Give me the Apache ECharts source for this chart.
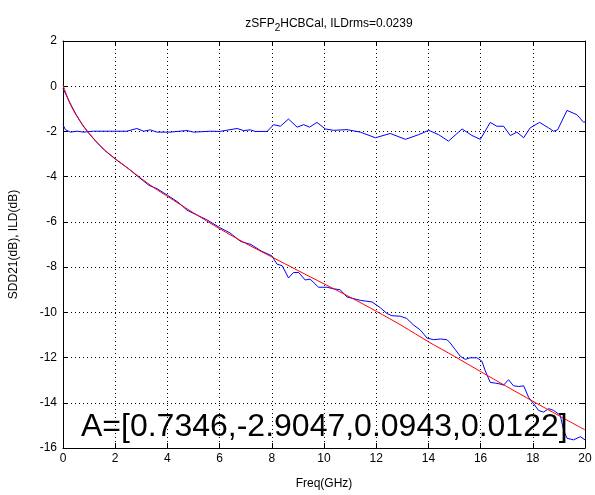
<!DOCTYPE html>
<html><head><meta charset="utf-8">
<script src="https://cdn.jsdelivr.net/npm/echarts@6/dist/echarts.min.js"></script>
<style>html,body{margin:0;padding:0;background:#fff}#c{width:595px;height:495px}</style>
</head><body><div id="c"></div>
<script>
const xTicks = [0,2,4,6,8,10,12,14,16,18,20];
const yTicks = [2,0,-2,-4,-6,-8,-10,-12,-14,-16];

const sddFreq = [0,0.25,0.5,0.75,1,1.25,1.6,2,2.5,2.9,3.3,3.6,4,4.4,4.75,5.1,5.5,6,6.4,6.8,7.2,7.6,8.0,8.2,8.4,8.64,8.83,9.03,9.28,9.47,9.79,10.11,10.37,10.62,10.88,11.39,11.84,12.16,12.41,12.6,12.92,13.17,13.43,13.69,13.95,14.2,14.46,14.71,14.84,15.03,15.22,15.41,15.6,15.86,16.05,16.18,16.37,16.56,16.75,16.88,17.07,17.26,17.46,17.65,17.84,18.03,18.22,18.41,18.61,18.8,19.05,19.18,19.31,19.56,19.82,20];
const sdd21 = [-0.1,-0.7,-1.25,-1.72,-2.1,-2.43,-2.84,-3.22,-3.64,-4.02,-4.39,-4.53,-4.82,-5.12,-5.48,-5.68,-5.9,-6.25,-6.49,-6.86,-7.0,-7.29,-7.5,-7.87,-7.94,-8.48,-8.24,-8.24,-8.57,-8.53,-8.89,-8.89,-8.96,-9.0,-9.32,-9.47,-9.54,-9.8,-10.05,-10.15,-10.17,-10.27,-10.56,-10.78,-11.14,-11.21,-11.18,-11.21,-11.36,-11.65,-11.94,-12.08,-12.01,-12.01,-12.16,-12.59,-13.1,-13.13,-13.17,-13.22,-12.98,-13.25,-13.28,-13.25,-13.76,-14.04,-14.34,-14.41,-14.26,-14.34,-14.55,-15.21,-15.57,-15.64,-15.5,-15.64];

const fitFreq = [0,0.25,0.5,0.75,1,1.5,2,2.5,3,3.5,4,5,6,7,8,9,10,11,12,13,14,15,16,17,18,19,20];
const fitVals = [0.05,-0.72,-1.27,-1.7,-2.08,-2.72,-3.2,-3.64,-4.08,-4.5,-4.87,-5.6,-6.3,-6.95,-7.55,-8.15,-8.74,-9.33,-9.95,-10.6,-11.3,-11.95,-12.62,-13.28,-13.93,-14.57,-15.2];

const ildFreq = [0,0.09,0.28,0.54,0.79,1.17,1.81,2.45,2.83,3.09,3.35,3.6,4.1,4.75,5.0,5.65,6.0,6.67,6.92,7.18,7.37,7.82,8.07,8.33,8.64,8.97,9.22,9.45,9.73,10.05,10.37,10.88,11.39,11.97,12.54,13.12,13.63,14.01,14.39,14.77,15.29,15.67,15.99,16.37,16.62,16.88,17.14,17.39,17.65,17.9,18.26,18.6,18.8,18.95,19.31,19.69,19.95,20];
const ildVals = [-1.7,-1.92,-2.03,-1.99,-2.03,-1.99,-1.99,-1.99,-1.87,-1.99,-1.93,-2.03,-2.03,-1.96,-2.03,-1.99,-2.0,-1.87,-1.96,-1.93,-2.0,-2.0,-1.7,-1.77,-1.45,-1.81,-1.7,-1.81,-1.6,-1.89,-1.95,-1.92,-2.03,-2.28,-2.09,-2.35,-2.14,-1.95,-2.14,-2.43,-1.89,-2.18,-2.35,-1.6,-1.77,-1.77,-2.18,-2.03,-2.28,-1.84,-1.6,-1.84,-1.99,-1.93,-1.07,-1.26,-1.6,-1.57];

const titleMain = 'zSFP';
const titleSub = '2';
const titleRest = 'HCBCal, ILDrms=0.0239';
const annotation = 'A=[0.7346,-2.9047,0.0943,0.0122]';
const xName = 'Freq(GHz)';
const yName = 'SDD21(dB), ILD(dB)';

const zip = (a, b) => a.map((v, i) => [v, b[i]]);
const FONT = '"Liberation Sans", Arial, sans-serif';
const dotted = {color:'#000', width:1, type:[1,3]};

const chart = echarts.init(document.getElementById('c'), null, {renderer:'canvas'});
const baseX = {type:'value', min:xTicks[0], max:xTicks[xTicks.length-1], interval:2};
const baseY = {type:'value', min:yTicks[yTicks.length-1], max:yTicks[0], interval:2};
chart.setOption({
  animation:false,
  backgroundColor:'#fff',
  title:{
    text:'{m|' + titleMain + '}{s|' + titleSub + '}{m|' + titleRest + '}',
    left:324, top:10, textAlign:'center',
    textStyle:{fontWeight:'normal', rich:{
      m:{fontFamily:FONT, fontSize:12, color:'#000', fontWeight:'normal'},
      s:{fontFamily:FONT, fontSize:10, color:'#000', fontWeight:'normal', padding:[8,0,0,0]}
    }}
  },
  grid:{left:63, right:10, top:41, bottom:42, containLabel:false},
  xAxis:[
    Object.assign({}, baseX, {position:'bottom', name:xName, nameLocation:'middle', nameGap:30,
      nameTextStyle:{fontFamily:FONT, fontSize:12, color:'#000'},
      axisLine:{show:true, onZero:false, lineStyle:{color:'#000', width:1}},
      axisTick:{show:true, inside:true, length:5, lineStyle:{color:'#000'}},
      axisLabel:{fontFamily:FONT, fontSize:12, color:'#000', margin:5},
      splitLine:{show:true, lineStyle:dotted}}),
    Object.assign({}, baseX, {position:'top',
      axisLine:{show:true, onZero:false, lineStyle:{color:'#000', width:1}},
      axisTick:{show:true, inside:true, length:5, lineStyle:{color:'#000'}},
      axisLabel:{show:false}, splitLine:{show:false}})
  ],
  yAxis:[
    Object.assign({}, baseY, {position:'left', name:yName, nameLocation:'middle', nameGap:43, nameRotate:90,
      nameTextStyle:{fontFamily:FONT, fontSize:12, color:'#000'},
      axisLine:{show:true, onZero:false, lineStyle:{color:'#000', width:1}},
      axisTick:{show:true, inside:true, length:5, lineStyle:{color:'#000'}},
      axisLabel:{fontFamily:FONT, fontSize:12, color:'#000', margin:6},
      splitLine:{show:true, lineStyle:dotted}}),
    Object.assign({}, baseY, {position:'right',
      axisLine:{show:true, onZero:false, lineStyle:{color:'#000', width:1}},
      axisTick:{show:true, inside:true, length:5, lineStyle:{color:'#000'}},
      axisLabel:{show:false}, splitLine:{show:false}})
  ],
  series:[
    {type:'line', name:'SDD21', data:zip(sddFreq, sdd21), showSymbol:false, symbol:'none',
      lineStyle:{color:'#0000ff', width:1}, z:2},
    {type:'line', name:'ILD', data:zip(ildFreq, ildVals), showSymbol:false, symbol:'none',
      lineStyle:{color:'#0000ff', width:1}, z:2},
    {type:'line', name:'Fit', data:zip(fitFreq, fitVals), showSymbol:false, symbol:'none', smooth:0.3,
      lineStyle:{color:'#ff0000', width:1}, z:3}
  ],
  graphic:[{type:'text', left:81, top:411, z:10,
    style:{text:annotation, fontFamily:FONT, fontSize:32, fill:'#000'}}]
});
</script></body></html>
